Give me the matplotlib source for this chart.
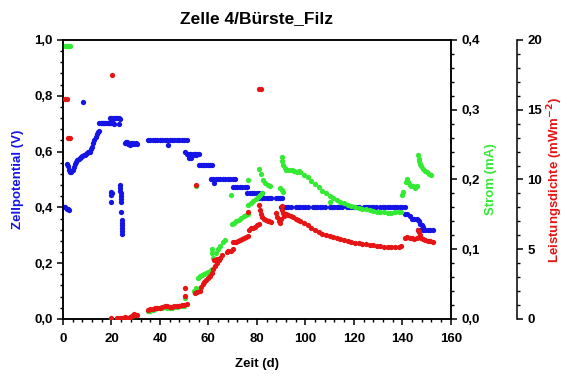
import matplotlib
matplotlib.use("Agg")
import matplotlib.pyplot as plt
from matplotlib.ticker import MultipleLocator, FuncFormatter

plt.rcParams['font.family'] = ['Liberation Sans', 'DejaVu Sans']
plt.rcParams['font.weight'] = 'bold'

BLUE = '#1414e6'
GREEN = '#33ea33'
RED = '#e61414'

# Zellpotential (V) over Zeit (d)
pot_day = [
    0, 0.5, 1, 1.5, 2, 2.5,
    1.5, 2, 2.5, 3, 3.5, 4, 4.5, 5, 5.5, 6, 6.5, 7, 7.5, 8, 8.5, 9, 9.5,
    10, 10.5, 11, 11.5, 12, 12.5, 13, 13.5, 14, 14.5, 15,
    8.2,
    15, 15.5, 16, 16.5, 17, 17.5, 18, 18.5, 19, 19.5, 20, 20.5, 21, 23.3,
    19.5, 20, 20.5, 21.5, 22, 22.5, 23, 23.5,
    20, 20, 20, 20.3,
    23.5, 23.6, 23.7, 23.8, 23.8, 23.9, 23.9, 24, 24.2, 24.3, 24.3, 24.4, 24.5, 24.5,
    25.5, 26, 26.5, 27, 27.5, 28, 28.5, 29, 29.5, 30, 30.5,
    35, 36, 37, 38, 39, 40, 41, 42, 43, 43.3, 44, 45, 46, 47, 48, 49, 50, 51,
    50.5, 51, 51.5, 52, 52.5, 53, 53.5, 54, 54.5, 55, 55.5, 56, 52, 53,
    56, 56.8, 57.6, 58.4, 59.2, 60, 60.8, 61.6,
    61, 62, 62.5, 63, 64, 65, 66, 67, 68, 69, 70, 71,
    70, 71, 72, 73, 74, 75, 76,
    76, 77, 78, 79, 80, 81, 82,
    81, 82, 83, 84, 85, 86,
    88, 88.8, 89.6, 90.4,
    90, 91, 92, 93, 94, 96, 97, 98, 99, 100, 101, 103, 104, 105, 106, 107,
    108, 110, 111, 112, 113, 114, 115, 117, 118, 119, 120, 121, 122, 124,
    125, 126, 127, 128, 129, 131, 132, 133, 134, 135, 136, 137, 138, 139, 140, 141,
    141, 142, 143, 144, 145, 146,
    146.5, 147, 147.5, 148, 148.5,
    146.5, 147.5, 148.5, 149.5, 150.5, 151.5, 152.5,
]
pot_v = [
    0.40, 0.40, 0.40, 0.395, 0.395, 0.39,
    0.555, 0.55, 0.535, 0.525, 0.528, 0.535, 0.545, 0.555, 0.562, 0.568, 0.572, 0.576,
    0.58, 0.583, 0.586, 0.589, 0.592,
    0.595, 0.598, 0.60, 0.61, 0.618, 0.63, 0.642, 0.652, 0.662, 0.67, 0.675,
    0.778,
    0.702, 0.702, 0.702, 0.702, 0.702, 0.702, 0.702, 0.702, 0.702, 0.702, 0.702, 0.702, 0.70, 0.70,
    0.72, 0.72, 0.72, 0.72, 0.72, 0.72, 0.72, 0.715,
    0.455, 0.443, 0.418, 0.45,
    0.48, 0.47, 0.46, 0.45, 0.44, 0.43, 0.42, 0.385, 0.355, 0.345, 0.335, 0.325, 0.315, 0.305,
    0.632, 0.636, 0.635, 0.628, 0.625, 0.63, 0.628, 0.63, 0.627, 0.63, 0.628,
    0.64, 0.64, 0.641, 0.64, 0.64, 0.641, 0.64, 0.64, 0.64, 0.625, 0.64, 0.64, 0.641, 0.64,
    0.64, 0.64, 0.641, 0.64,
    0.60, 0.59, 0.59, 0.585, 0.59, 0.59, 0.588, 0.59, 0.59, 0.588, 0.59, 0.59, 0.578, 0.578,
    0.552, 0.552, 0.552, 0.552, 0.552, 0.552, 0.552, 0.552,
    0.50, 0.50, 0.487, 0.50, 0.50, 0.50, 0.50, 0.50, 0.50, 0.50, 0.50, 0.50,
    0.472, 0.472, 0.472, 0.472, 0.472, 0.472, 0.472,
    0.45, 0.45, 0.45, 0.45, 0.45, 0.45, 0.45,
    0.432, 0.432, 0.432, 0.432, 0.432, 0.432,
    0.432, 0.432, 0.432, 0.432,
    0.40, 0.40, 0.40, 0.40, 0.40, 0.40, 0.40, 0.40, 0.40, 0.40, 0.40, 0.40, 0.40, 0.40, 0.40, 0.40,
    0.40, 0.40, 0.40, 0.40, 0.40, 0.40, 0.40, 0.40, 0.40, 0.40, 0.40, 0.40, 0.40, 0.40,
    0.40, 0.40, 0.40, 0.40, 0.40, 0.40, 0.40, 0.40, 0.40, 0.40, 0.40, 0.40, 0.40, 0.40, 0.40, 0.40,
    0.375, 0.375, 0.37, 0.36, 0.36, 0.36,
    0.355, 0.35, 0.34, 0.335, 0.33,
    0.32, 0.32, 0.32, 0.32, 0.32, 0.32, 0.32,
]

# Strom (mA)
strom_day = [
    0.8, 1.2, 1.6, 2.0, 2.4, 2.8,
    20, 22.5, 24, 25, 26, 27, 28, 29, 30,
    35, 36, 37, 38, 39, 40, 41, 42, 43, 44, 45, 46, 47, 48, 49, 50,
    50.3,
    54, 55, 55.7, 56.5, 57.3, 58, 59, 60, 61,
    55.1,
    61.3, 61.3, 62, 63, 64, 65, 66, 67,
    69.5,
    69.7, 70.5, 71.5, 72.5, 73.5, 74.5, 75.5, 76.3,
    76.3,
    76.5, 77.5, 78.5, 79.5, 80.5, 81.5, 82.3,
    81, 81.8, 82.6, 83.5, 84.5, 85.6,
    89.5, 90.2, 90.7,
    90.2, 90.5, 90.8, 91.5, 92.2, 93.2, 94.3, 95.3, 96.4, 97.5,
    98, 99.5, 101, 102.5, 104, 105.5, 107, 108.5, 110, 111.5, 113, 114.5, 116,
    117.5, 119, 120.5, 122, 123.5, 125, 126.5, 128, 129.5, 131, 132.5, 134,
    135.5, 137, 138.5, 139.5,
    110,
    140, 140.5, 141.5, 142, 142.5, 143, 143.8, 144.5, 145.3, 146,
    146.4, 146.7, 147, 147.4, 147.8, 148.5, 149.3, 150, 151, 152,
]
strom_ma = [
    0.392, 0.392, 0.392, 0.392, 0.392, 0.392,
    0.0, 0.0, 0.0, 0.001, 0.001, 0.001, 0.002, 0.003, 0.004,
    0.011, 0.012, 0.013, 0.014, 0.015, 0.016, 0.016, 0.017, 0.016, 0.016, 0.016,
    0.017, 0.017, 0.018, 0.018, 0.018,
    0.03,
    0.04, 0.045, 0.058, 0.062, 0.063, 0.065, 0.066, 0.068, 0.07,
    0.19,
    0.095, 0.10, 0.088, 0.095, 0.10, 0.105, 0.11, 0.113,
    0.178,
    0.136, 0.138, 0.14, 0.142, 0.145, 0.147, 0.149, 0.15,
    0.199,
    0.163, 0.166, 0.169, 0.172, 0.175, 0.178, 0.18,
    0.215, 0.208, 0.199, 0.195, 0.192, 0.19,
    0.188, 0.185, 0.182,
    0.232, 0.226, 0.221, 0.216, 0.214, 0.213, 0.213, 0.212, 0.211, 0.212,
    0.210, 0.207, 0.203, 0.198, 0.193, 0.189, 0.184, 0.180, 0.176, 0.173, 0.170, 0.168, 0.166,
    0.164, 0.162, 0.161, 0.159, 0.158, 0.157, 0.156, 0.155, 0.154, 0.154, 0.153, 0.152,
    0.152, 0.153, 0.154, 0.153,
    0.167,
    0.178, 0.182, 0.196, 0.20, 0.197, 0.192, 0.19, 0.19, 0.188, 0.19,
    0.235, 0.23, 0.226, 0.222, 0.219, 0.215, 0.212, 0.21, 0.208, 0.207,
]

# Leistungsdichte (mW m^-2)
leist_day = [
    0.9, 1.5, 2.2, 2.8, 20.2, 55.1, 80.8, 81.6,
    20, 22.5, 23.5, 24.5, 25.5, 26.5, 27.5, 28.5, 29, 29.5, 30, 30.5,
    35, 36, 37, 38, 39, 40, 41, 42, 43, 44, 45, 46, 47, 48, 49, 50, 51,
    50.3, 50.3,
    54.4, 55.5, 56.5, 57, 57.6, 58.3, 59, 59.8, 60.5, 61.3, 62, 62.8, 63.5, 64.3,
    65, 65.8, 62.5, 63.5,
    67.5, 68.3, 69.2, 70,
    70, 70.8, 71.6, 72.4, 73.2, 74, 74.8, 75.6, 76.3,
    76.5,
    76.8, 77.6, 78.4, 79.2, 80, 80.8,
    81, 81.2, 81.6, 82, 82.8, 83.6, 84.4, 85.2, 86,
    88, 88.5, 89, 89.5, 90, 90.2, 90.4, 90.8, 91.3,
    92, 93, 94, 95, 96, 97,
    98, 99.5, 101, 102.5, 104, 105.5, 107, 108.5, 110, 111.5, 113, 114.5, 116,
    117.5, 119, 120.5, 122, 123.5, 125, 126.5, 128, 129.5, 131, 132.5, 134,
    135.5, 137, 138.5, 139.5,
    141, 142, 143, 144, 145, 146,
    146.5, 146.8, 147.2, 147.6, 148.5, 149.5, 150.5, 151.5, 152.5,
]
leist_mw = [
    15.8, 15.8, 13.0, 13.0, 17.5, 9.6, 16.5, 16.5,
    0.05, 0.1, 0.08, 0.1, 0.12, 0.1, 0.15, 0.2, 0.3, 0.35, 0.3, 0.25,
    0.65, 0.7, 0.72, 0.75, 0.78, 0.82, 0.88, 0.92, 0.9, 0.88, 0.88, 0.9, 0.92, 0.95,
    0.98, 1.0, 1.05,
    2.2, 1.65,
    1.85, 1.95, 2.0, 2.3, 2.5, 2.65, 2.8, 2.9, 3.1, 3.3, 3.55, 3.8, 4.0, 4.2,
    4.4, 4.6, 4.2, 4.3,
    4.8, 4.85, 4.9, 5.0,
    5.5, 5.5, 5.55, 5.6, 5.65, 5.7, 5.8, 5.9, 5.95,
    7.7,
    6.4, 6.5, 6.55, 6.6, 6.7, 6.8,
    8.2, 7.8, 7.5, 7.33, 7.2, 7.1, 7.05, 7.0, 6.95,
    7.6, 7.3, 7.0, 6.86, 7.2, 7.8, 8.1, 7.6, 7.4,
    7.5, 7.45, 7.35, 7.3, 7.2, 7.1,
    7.0, 6.9, 6.7, 6.55, 6.4, 6.25, 6.12, 6.02, 5.95, 5.87, 5.8, 5.72, 5.65,
    5.6, 5.53, 5.48, 5.44, 5.4, 5.35, 5.31, 5.28, 5.24, 5.21, 5.19, 5.18,
    5.17, 5.17, 5.18, 5.2,
    5.8, 5.85, 5.8, 5.8, 5.75, 5.8,
    6.4, 6.2, 6.0, 5.8, 5.7, 5.65, 5.6, 5.6, 5.55,
]


def comma(val, pos):
    # German decimal comma, one decimal place
    return ('%.1f' % val).replace('.', ',')


def style_ticks(ax, **kw):
    ax.tick_params(which='major', direction='out', length=4, width=1.1, labelsize=9.5, **kw)
    ax.tick_params(which='minor', direction='out', length=2.3, width=1.0, **kw)


fig = plt.figure(figsize=(5.67, 3.77), dpi=100)
ax = fig.add_axes([0.111, 0.154, 0.684, 0.740])
ax_i = ax.twinx()
ax_p = ax.twinx()

ms = 3.8
ax.plot(pot_day, pot_v, 'o', color=BLUE, ms=ms, mew=0)
ax_i.plot(strom_day, strom_ma, 'o', color=GREEN, ms=ms, mew=0)
ax_p.plot(leist_day, leist_mw, 'o', color=RED, ms=ms, mew=0)

ax.set_xlim(0, 160)
ax.set_ylim(0, 1.0)
ax_i.set_ylim(0, 0.4)
ax_p.set_ylim(0, 20)

ax.xaxis.set_major_locator(MultipleLocator(20))
ax.xaxis.set_minor_locator(MultipleLocator(4))
ax.yaxis.set_major_locator(MultipleLocator(0.2))
ax.yaxis.set_minor_locator(MultipleLocator(0.04))
ax_i.yaxis.set_major_locator(MultipleLocator(0.1))
ax_i.yaxis.set_minor_locator(MultipleLocator(0.02))
ax_p.yaxis.set_major_locator(MultipleLocator(5))
ax_p.yaxis.set_minor_locator(MultipleLocator(1))

ax.yaxis.set_major_formatter(FuncFormatter(comma))
ax_i.yaxis.set_major_formatter(FuncFormatter(comma))

for a in (ax, ax_i, ax_p):
    for s in a.spines.values():
        s.set_linewidth(1.1)
style_ticks(ax)
style_ticks(ax_i)
style_ticks(ax_p)
ax.tick_params(axis='x', pad=6)

# separate spine for the power density axis
for side in ('left', 'top', 'bottom'):
    ax_p.spines[side].set_visible(False)
ax_p.spines['right'].set_position(('axes', 1.17))

ax.set_title('Zelle 4/Bürste_Filz', fontsize=12.5, fontweight='bold', pad=12)
ax.set_xlabel('Zeit (d)', fontsize=9.5, fontweight='bold')
ax.xaxis.set_label_coords(0.5, -0.14)
ax.set_ylabel('Zellpotential (V)', fontsize=9.5, fontweight='bold', color=BLUE)
ax.yaxis.set_label_coords(-0.10, 0.5)
ax_i.set_ylabel('Strom (mA)', fontsize=9.5, fontweight='bold', color=GREEN)
ax_i.yaxis.set_label_coords(1.088, 0.5)
ax_p.set_ylabel('Leistungsdichte (mWm$^{\\mathbf{-2}}$)', fontsize=9.5, fontweight='bold', color=RED)
ax_p.yaxis.set_label_coords(1.245, 0.5)

fig.savefig('out.png', dpi=100, facecolor='white')
